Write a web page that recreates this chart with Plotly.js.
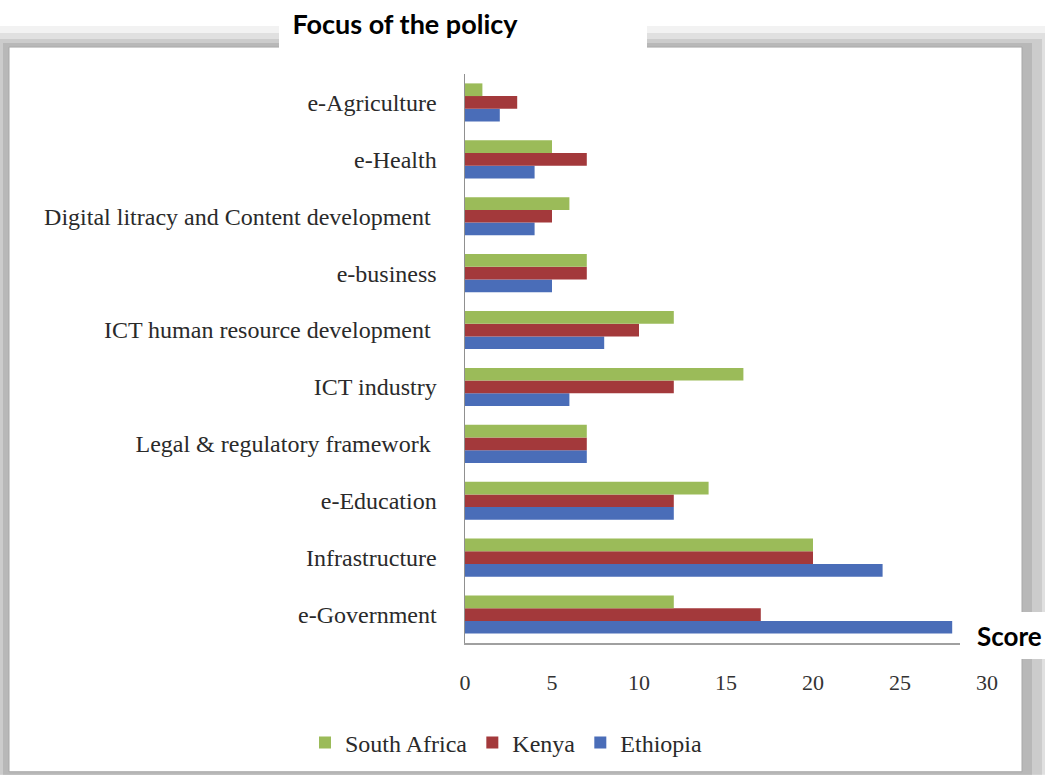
<!DOCTYPE html>
<html>
<head>
<meta charset="utf-8">
<script src="https://cdn.plot.ly/plotly-3.0.1.min.js"></script>
<style>
  html, body { margin: 0; padding: 0; background: #ffffff; }
  #chart { width: 1045px; height: 776px; }
</style>
</head>
<body>
<div id="chart"></div>
<script>
// ---- data ----
const categories = [
  'e-Government',
  'Infrastructure',
  'e-Education',
  'Legal & regulatory framework ',
  'ICT industry',
  'ICT human resource development ',
  'e-business',
  'Digital litracy and Content development ',
  'e-Health',
  'e-Agriculture'
];
const ethiopia    = [28, 24, 12, 7, 6, 8, 5, 4, 4, 2];
const kenya       = [17, 20, 12, 7, 12, 10, 7, 5, 7, 3];
const southAfrica = [12, 20, 14, 7, 16, 12, 7, 6, 5, 1];
const xTicks = [0, 5, 10, 15, 20, 25, 30];

// ---- layout geometry ----
const W = 1045, H = 776;
const L = 465, R = 58, T = 74, B = 132;
const pw = W - L - R, ph = H - T - B;
const px = x => (x - L) / pw;            // pixel -> paper x
const py = y => (H - B - y) / ph;        // pixel -> paper y

const serif = 'Liberation Serif, Times New Roman, serif';

const traces = [
  { name: 'Ethiopia', y: categories, x: ethiopia, color: '#4A6DB8' },
  { name: 'Kenya', y: categories, x: kenya, color: '#A3393B' },
  { name: 'South Africa', y: categories, x: southAfrica, color: '#9BBB59' }
].map(s => ({
  type: 'bar', orientation: 'h', name: s.name, x: s.x, y: s.y,
  marker: { color: s.color, line: { width: 0 } },
  hoverinfo: 'x+name'
}));

function rect(x0, y0, x1, y1, fill, line, layer) {
  return {
    type: 'rect', xref: 'paper', yref: 'paper',
    x0: px(x0), x1: px(x1), y0: py(y0), y1: py(y1),
    fillcolor: fill, line: line || { width: 0 }, layer: layer || 'below'
  };
}

const shapes = [
  rect(0, 26, 1045, 776, '#f2f2f2'),
  rect(0, 33, 1045, 776, '#e0e0e0'),
  rect(0, 39, 1042, 776, '#cccccc'),
  rect(3, 43, 1032, 776, '#b8b8b8'),
  rect(9, 47, 1022, 773, '#ffffff', { color: '#a8a8a8', width: 1 }),
  // white box behind the title
  rect(279, 0, 647, 56, '#ffffff'),
  // white box behind "Score"
  rect(960, 613, 1045, 660, '#ffffff', null, 'above')
];

const layout = {
  width: W, height: H,
  margin: { l: L, r: R, t: T, b: B, pad: 0 },
  paper_bgcolor: '#ffffff',
  plot_bgcolor: '#ffffff',
  barmode: 'group',
  bargap: 0.33,
  bargroupgap: 0,
  showlegend: true,
  title: {
    text: '<b>Focus of the policy</b>',
    font: { family: 'Lato, Open Sans, sans-serif', size: 27, color: '#000000' },
    x: 405 / W, xref: 'container', xanchor: 'center',
    y: 1 - 25 / H, yref: 'container', yanchor: 'middle'
  },
  xaxis: {
    range: [0, 30],
    tickvals: xTicks,
    ticktext: xTicks.map(String),
    showgrid: false, zeroline: false,
    showline: true, linecolor: '#a0a0a0', linewidth: 1.5,
    ticks: '', ticklabelstandoff: 19,
    tickfont: { family: serif, size: 22, color: '#333333' },
    fixedrange: true
  },
  yaxis: {
    type: 'category',
    categoryorder: 'array', categoryarray: categories,
    range: [-0.5, categories.length - 0.5],
    showgrid: false, zeroline: false,
    showline: true, linecolor: '#909090', linewidth: 1.5,
    ticks: '', ticklabelstandoff: 22,
    tickfont: { family: serif, size: 24, color: '#2a2a2a' },
    fixedrange: true
  },
  legend: {
    orientation: 'h', traceorder: 'reversed',
    x: px(506), xanchor: 'center',
    y: py(743), yanchor: 'middle',
    font: { family: serif, size: 24, color: '#2a2a2a' },
    bgcolor: 'rgba(0,0,0,0)',
    itemwidth: 30, itemsizing: 'constant'
  },
  shapes: shapes,
  annotations: [{
    text: '<b>Score</b>', xref: 'paper', yref: 'paper',
    x: px(1009), y: py(637), xanchor: 'center', yanchor: 'middle',
    showarrow: false,
    font: { family: 'Lato, Open Sans, sans-serif', size: 26, color: '#000000' }
  }]
};

Plotly.newPlot('chart', traces, layout, { displayModeBar: false, staticPlot: true });
</script>
</body>
</html>
